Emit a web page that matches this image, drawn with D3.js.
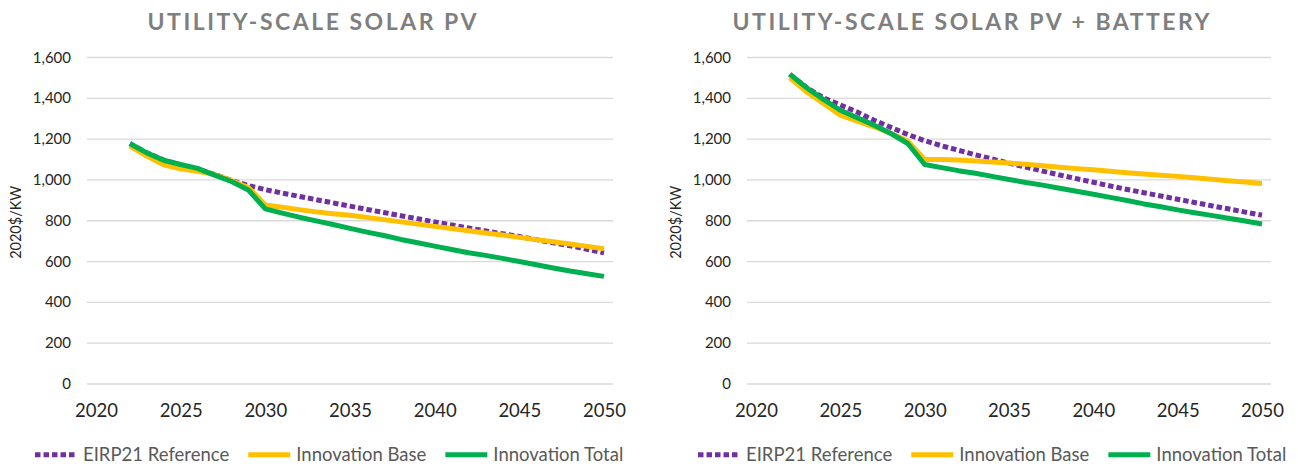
<!DOCTYPE html>
<html>
<head>
<meta charset="utf-8">
<script src="https://cdn.jsdelivr.net/npm/d3@7"></script>
<style>
  body { margin: 0; background: #fff; }
  svg { display: block; font-family: Lato, "Open Sans", sans-serif; }
</style>
</head>
<body>
<div id="app"></div>
<script>
// ---- data ----
const years = [2022, 2023, 2024, 2025, 2026, 2027, 2028, 2029, 2030, 2031, 2032, 2033, 2034, 2035,
  2036, 2037, 2038, 2039, 2040, 2041, 2042, 2043, 2044, 2045, 2046, 2047, 2048, 2049, 2050];

const seriesNames = ["EIRP21 Reference", "Innovation Base", "Innovation Total"];
const titles = ["UTILITY-SCALE SOLAR PV", "UTILITY-SCALE SOLAR PV + BATTERY"];
const yLabel = "2020$/KW";
const yTicks = [0, 200, 400, 600, 800, 1000, 1200, 1400, 1600];
const xTicks = [2020, 2025, 2030, 2035, 2040, 2045, 2050];

// utility-scale solar PV
const pvReference = [1175, 1130, 1095, 1070, 1050, 1025, 995, 970, 950, 933, 917, 901, 885, 869,
  853, 838, 822, 807, 792, 777, 762, 748, 734, 720, 705, 690, 675, 658, 640];
const pvBase = [1163, 1115, 1072, 1052, 1040, 1024, 995, 960, 875, 864, 852, 841, 832, 825,
  814, 803, 792, 781, 770, 760, 749, 738, 728, 716, 705, 695, 684, 672, 660];
const pvTotal = [1176, 1130, 1094, 1073, 1054, 1021, 990, 948, 856, 835, 815, 797, 779, 760,
  742, 725, 706, 690, 673, 657, 641, 628, 613, 598, 582, 566, 551, 538, 525];

// utility-scale solar PV + battery
const pvbReference = [1515, 1450, 1400, 1365, 1330, 1290, 1255, 1220, 1190, 1165, 1143, 1121, 1100, 1080,
  1060, 1041, 1022, 1004, 986, 968, 951, 935, 919, 903, 887, 871, 856, 840, 825];
const pvbBase = [1498, 1429, 1372, 1315, 1286, 1258, 1225, 1188, 1098, 1098, 1095, 1090, 1085, 1080,
  1075, 1067, 1060, 1053, 1047, 1040, 1033, 1027, 1021, 1015, 1008, 1001, 994, 987, 980];
const pvbTotal = [1516, 1449, 1392, 1339, 1302, 1266, 1225, 1176, 1073, 1058, 1043, 1030, 1015, 1000,
  985, 972, 957, 942, 927, 912, 897, 880, 866, 851, 837, 824, 810, 796, 782];

const colors = ["#7030a0", "#ffc000", "#00b050"];

// ---- layout ----
const svg = d3.select("#app").append("svg")
  .attr("width", 1298)
  .attr("height", 466);

const panels = [
  { title: titles[0], left: 87, right: 613, titleX: 312, titleW: 329, legendX: 35,
    values: [pvReference, pvBase, pvTotal] },
  { title: titles[1], left: 747, right: 1271, titleX: 971, titleW: 477, legendX: 698,
    values: [pvbReference, pvbBase, pvbTotal] }
];

const plotTop = 57, plotBottom = 383.5;

panels.forEach(p => {
  const g = svg.append("g");

  const x = d3.scaleLinear().domain([2020, 2050]).range([p.left + 9, p.right - 9]);
  const y = d3.scaleLinear().domain([0, 1600]).range([plotBottom, plotTop]);

  // title
  g.append("text")
    .attr("x", p.titleX)
    .attr("y", 29.5)
    .attr("text-anchor", "middle")
    .attr("textLength", p.titleW)
    .attr("lengthAdjust", "spacing")
    .style("font-size", "23px")
    .style("font-weight", "bold")
    .style("fill", "#7f7f7f")
    .text(p.title);

  // y axis + gridlines
  const yAxis = g.append("g")
    .attr("transform", `translate(${p.left},0)`)
    .call(d3.axisLeft(y)
      .tickValues(yTicks)
      .tickSize(-(p.right - p.left))
      .tickPadding(16)
      .tickFormat(d3.format(",")));
  yAxis.select(".domain").remove();
  yAxis.selectAll("line").attr("stroke", "#d9d9d9").attr("stroke-width", 1.3);
  yAxis.selectAll("text")
    .attr("dy", "0.34em")
    .style("font-size", "15px")
    .style("fill", "#262626")
    .style("font-family", "Lato, sans-serif");

  // x axis labels
  const xAxis = g.append("g")
    .attr("transform", `translate(0,${plotBottom})`)
    .call(d3.axisBottom(x).tickValues(xTicks).tickSize(0).tickPadding(20).tickFormat(d3.format("d")));
  xAxis.select(".domain").remove();
  xAxis.selectAll("text")
    .style("font-size", "18.5px")
    .style("fill", "#262626")
    .style("font-family", "Lato, sans-serif");

  // y title
  g.append("text")
    .attr("transform", `translate(${p.left - 66},${(plotTop + plotBottom) / 2 + 2}) rotate(-90)`)
    .attr("text-anchor", "middle")
    .style("font-size", "14.5px")
    .style("fill", "#262626")
    .text(yLabel);

  // lines
  const line = d3.line()
    .x((d, i) => x(years[i]))
    .y(d => y(d));

  p.values.forEach((vals, k) => {
    g.append("path")
      .datum(vals)
      .attr("d", line)
      .attr("fill", "none")
      .attr("stroke", colors[k])
      .attr("stroke-width", 5)
      .attr("stroke-linejoin", "round")
      .attr("stroke-dasharray", k === 0 ? "5.5,3" : null);
  });

  // legend
  let lx = p.legendX;
  seriesNames.forEach((name, k) => {
    g.append("line")
      .attr("x1", lx).attr("x2", lx + 42)
      .attr("y1", 454.7).attr("y2", 454.7)
      .attr("stroke", colors[k])
      .attr("stroke-width", 5)
      .attr("stroke-dasharray", k === 0 ? "5.5,3" : null);
    const t = g.append("text")
      .attr("x", lx + 48)
      .attr("y", 461)
      .style("font-size", "18.5px")
      .style("fill", "#595959")
      .text(name);
    lx += 48 + t.node().getComputedTextLength() + 19;
  });
});
</script>
</body>
</html>
